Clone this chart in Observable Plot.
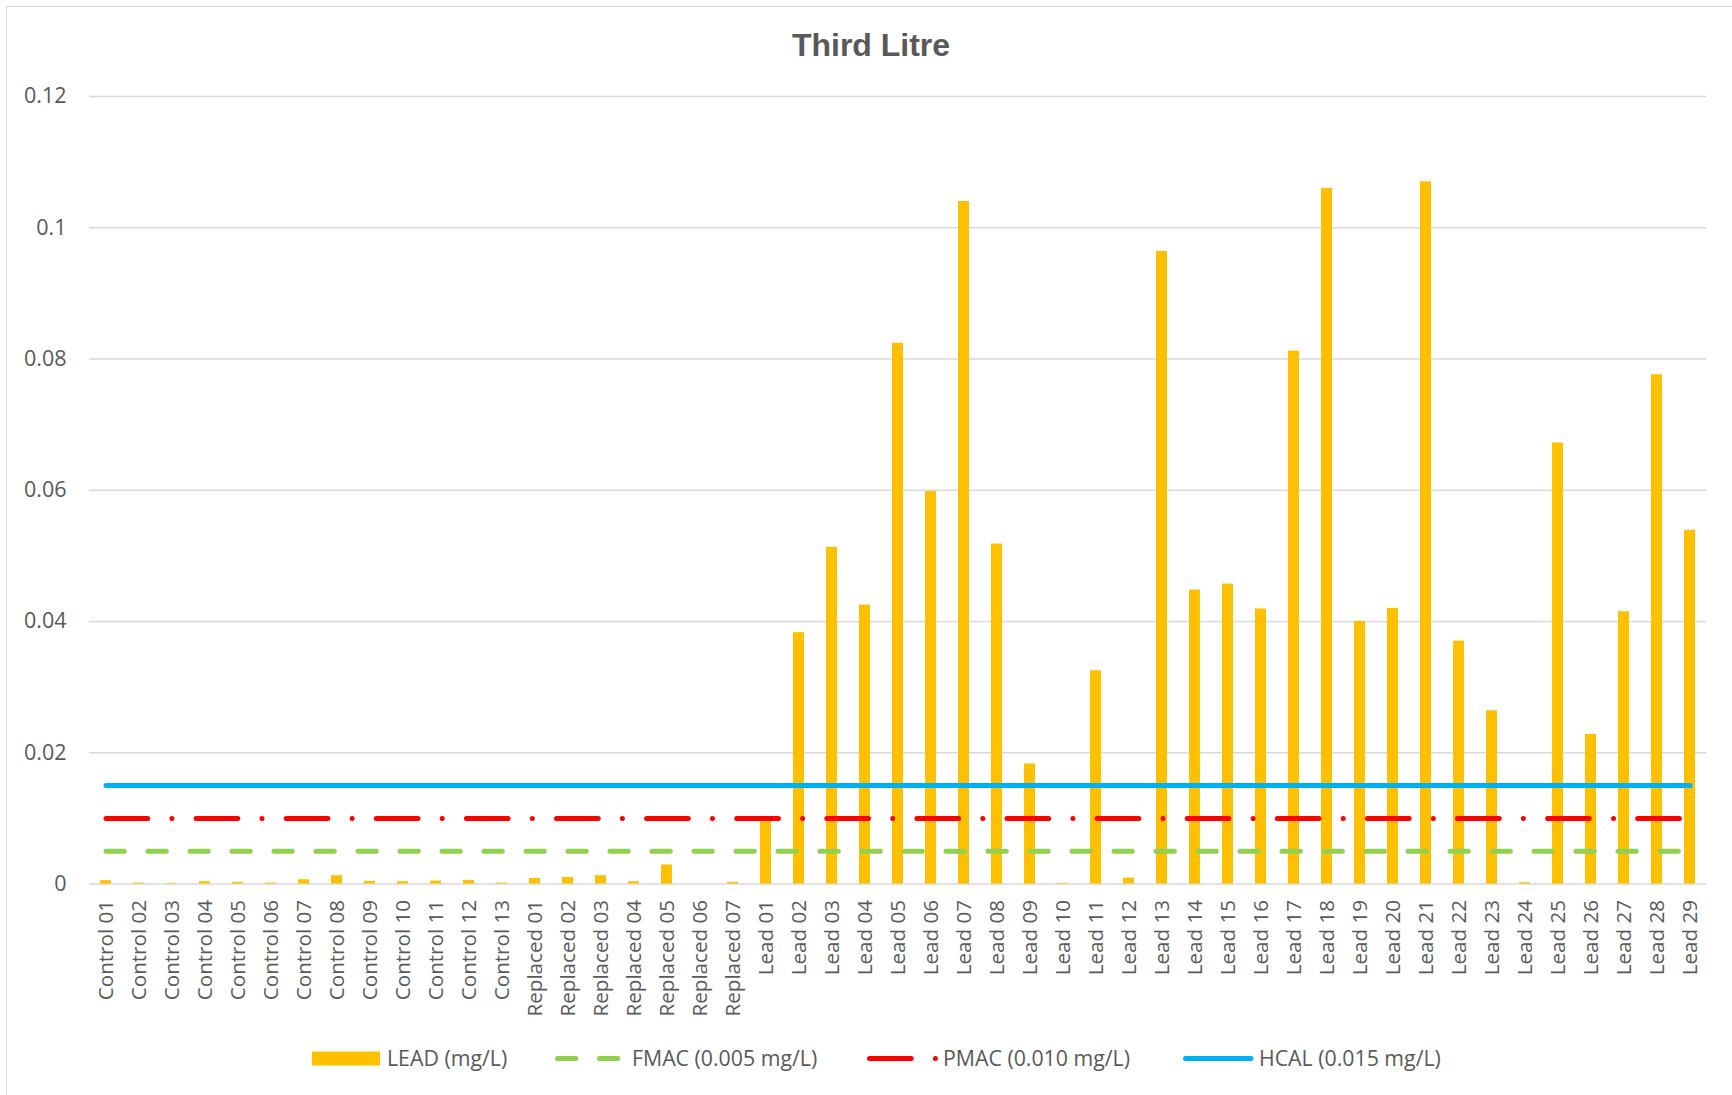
<!DOCTYPE html>
<html>
<head>
<meta charset="utf-8">
<script src="https://cdn.jsdelivr.net/npm/d3@7"></script>
<script src="https://cdn.jsdelivr.net/npm/@observablehq/plot@0.6"></script>
<style>
  html, body { margin: 0; padding: 0; background: #fff; width: 1732px; height: 1095px; overflow: hidden; }
  #frame { position: absolute; left: 6px; top: 6px; width: 1780px; height: 1140px; border: 1.3px solid #d9d9d9; box-sizing: border-box; }
  #title { position: absolute; left: 0; top: 24.6px; width: 1742px; text-align: center;
           font: bold 32px "Liberation Sans", Arial, sans-serif; line-height: 40px; color: #595959; }
  #chart { position: absolute; left: 0; top: 70px; }
  #legend { position: absolute; left: 0; top: 1030px; }
</style>
</head>
<body>
<div id="frame"></div>
<div id="title">Third Litre</div>
<div id="chart"></div>
<div id="legend"></div>
<script>
// ---- Data ----
const controlSites = ["Control 01","Control 02","Control 03","Control 04","Control 05","Control 06","Control 07",
  "Control 08","Control 09","Control 10","Control 11","Control 12","Control 13"];
const controlLead = [0.0005, 0.00015, 0.0001, 0.00035, 0.00025, 0.00015, 0.00065,
  0.00127, 0.0004, 0.00035, 0.00045, 0.00055, 0.00015];

const replacedSites = ["Replaced 01","Replaced 02","Replaced 03","Replaced 04","Replaced 05","Replaced 06","Replaced 07"];
const replacedLead = [0.00085, 0.001, 0.00127, 0.00035, 0.0029, 0, 0.00025];

const leadSites = ["Lead 01","Lead 02","Lead 03","Lead 04","Lead 05","Lead 06","Lead 07","Lead 08","Lead 09","Lead 10",
  "Lead 11","Lead 12","Lead 13","Lead 14","Lead 15","Lead 16","Lead 17","Lead 18","Lead 19","Lead 20",
  "Lead 21","Lead 22","Lead 23","Lead 24","Lead 25","Lead 26","Lead 27","Lead 28","Lead 29"];
const leadLead = [0.0095, 0.0383, 0.0513, 0.0425, 0.0824, 0.0598, 0.1040, 0.0518, 0.0183, 0.0001,
  0.0325, 0.0009, 0.0964, 0.0448, 0.0457, 0.0419, 0.0812, 0.1060, 0.0400, 0.0420,
  0.1070, 0.0370, 0.0264, 0.0002, 0.0672, 0.0228, 0.0415, 0.0776, 0.0539];

const limitNames = ["FMAC (0.005 mg/L)", "PMAC (0.010 mg/L)", "HCAL (0.015 mg/L)"];
const limitValues = [0.005, 0.010, 0.015];
const seriesName = "LEAD (mg/L)";
const yTicks = [0, 0.02, 0.04, 0.06, 0.08, 0.1, 0.12];

// ---- Styles ----
const barColor = "#ffc000";
const limitColors = ["#92d050", "#ff0000", "#00b0f0"];
const limitDash = ["18.3 23.7", "41.7 24.2 0 24.2", null];
const textColor = "#595959";
const gridColor = "#d9d9d9";

const sites = [...controlSites, ...replacedSites, ...leadSites];
const values = [...controlLead, ...replacedLead, ...leadLead];
const rows = sites.map((s, i) => ({site: s, lead: values[i]}));

const limitMarks = limitValues.map((v, i) =>
  Plot.lineY(sites, {
    x: d => d, y: () => v,
    stroke: limitColors[i], strokeWidth: 5, strokeLinecap: "round",
    strokeDasharray: limitDash[i] || undefined
  })
);

const chart = Plot.plot({
  width: 1732, height: 960,
  marginLeft: 89, marginRight: 26, marginTop: 26, marginBottom: 146.5,
  style: {fontFamily: "'Open Sans', sans-serif", fontSize: "20px", color: textColor, background: "transparent", overflow: "visible"},
  x: {type: "band", domain: sites, paddingInner: 0.68, paddingOuter: 0.34, label: null},
  y: {domain: [0, 0.12], label: null},
  marks: [
    Plot.ruleY(yTicks.filter(t => t > 0), {stroke: gridColor, strokeWidth: 1.3}),
    Plot.ruleY([0], {stroke: gridColor, strokeWidth: 1.6}),
    Plot.barY(rows, {x: "site", y: "lead", fill: barColor}),
    ...limitMarks,
    Plot.axisY({ticks: yTicks, tickFormat: d3.format("~g"), tickSize: 0, tickPadding: 23, fontSize: 21.5, label: null}),
    Plot.axisX({tickRotate: -90, tickSize: 0, tickPadding: 16, fontSize: 20.6, label: null})
  ]
});
document.getElementById("chart").appendChild(chart);

// ---- Legend ----
const lg = d3.create("svg").attr("width", 1732).attr("height", 65)
  .style("font-family", "'Open Sans', sans-serif").style("font-size", "21.3px");
const cy = 28.5, baseY = 35.5;
lg.append("rect").attr("x", 312).attr("y", cy - 7).attr("width", 68).attr("height", 14).attr("fill", barColor);
lg.append("text").attr("x", 387).attr("y", baseY).attr("fill", textColor).text(seriesName);
const legendLines = [[557.5, 617.8, 632], [869.5, 935.4, 943], [1185.5, 1250.9, 1259]];
limitNames.forEach((name, i) => {
  const [x1, x2, tx] = legendLines[i];
  const ln = lg.append("line").attr("x1", x1).attr("x2", x2).attr("y1", cy).attr("y2", cy)
    .attr("stroke", limitColors[i]).attr("stroke-width", 5).attr("stroke-linecap", "round");
  if (limitDash[i]) ln.attr("stroke-dasharray", limitDash[i]);
  lg.append("text").attr("x", tx).attr("y", baseY).attr("fill", textColor).text(name);
});
document.getElementById("legend").appendChild(lg.node());
</script>
</body>
</html>
